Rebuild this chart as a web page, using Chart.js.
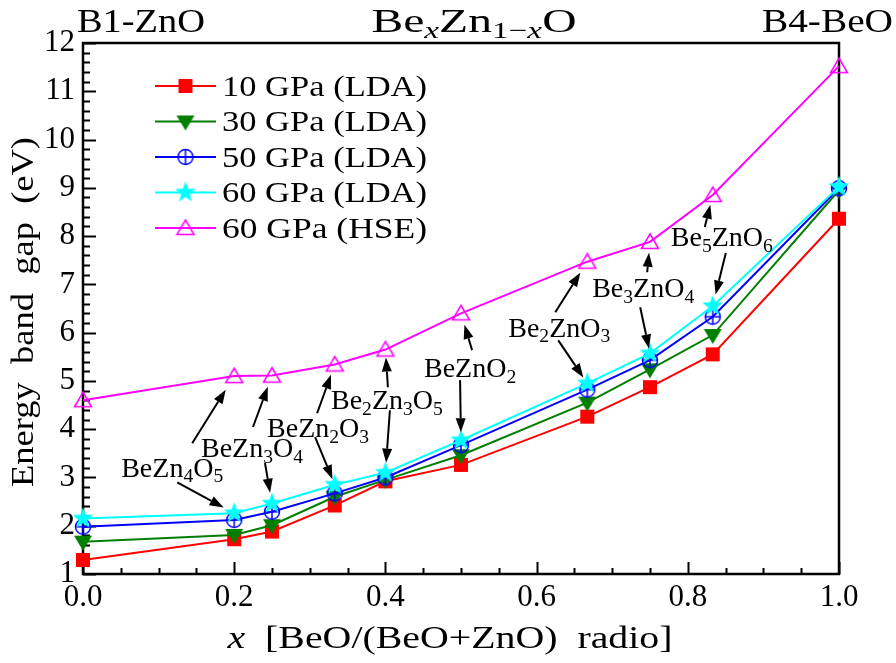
<!DOCTYPE html>
<html>
<head>
<meta charset="utf-8">
<script src="https://cdn.jsdelivr.net/npm/chart.js@4.4.0/dist/chart.umd.min.js"></script>
<style>
  html, body { margin: 0; padding: 0; background: #fff; }
</style>
</head>
<body>
<canvas id="chart" width="896" height="663"></canvas>
<script>
// BeO fraction x
const ratio = [0, 0.2, 0.25, 0.333, 0.4, 0.5, 0.667, 0.75, 0.833, 1.0];

// band gaps (eV)
const gap10LDA = [1.29, 1.72, 1.88, 2.42, 2.92, 3.26, 4.26, 4.87, 5.55, 8.36];
const gap30LDA = [1.67, 1.81, 2.01, 2.60, 2.95, 3.46, 4.55, 5.24, 5.95, 8.95];
const gap50LDA = [1.98, 2.12, 2.29, 2.67, 3.00, 3.67, 4.82, 5.43, 6.33, 8.99];
const gap60LDA = [2.15, 2.26, 2.46, 2.85, 3.10, 3.77, 4.95, 5.57, 6.55, 9.02];
const gap60HSE = [4.60, 5.10, 5.11, 5.34, 5.65, 6.40, 7.47, 7.88, 8.85, 11.52];

const seriesNames = ['10 GPa (LDA)', '30 GPa (LDA)', '50 GPa (LDA)', '60 GPa (LDA)', '60 GPa (HSE)'];
const seriesColors = ['#ff0000', '#007f00', '#0000ff', '#00ffff', '#ff00ff'];

const xTicks = [0, 0.2, 0.4, 0.6, 0.8, 1.0];
const yTicks = [1, 2, 3, 4, 5, 6, 7, 8, 9, 10, 11, 12];

// compound labels: centre in data units, arrows go from label to [series, point]
const notes = [
  { parts: [['BeZn', ''], ['4', 'sub'], ['O', ''], ['5', 'sub']], x: 0.118, y: 3.21,
    arrows: [{ dx: 20, dy: -24, s: 4, i: 1, gap: 16 }, { dx: 5, dy: 15, s: 3, i: 1, gap: 12 }] },
  { parts: [['BeZn', ''], ['3', 'sub'], ['O', ''], ['4', 'sub']], x: 0.2235, y: 3.61,
    arrows: [{ dx: 1, dy: -21, s: 4, i: 2, gap: 12 }, { dx: 13, dy: 15, s: 3, i: 2, gap: 11 }] },
  { parts: [['BeZn', ''], ['2', 'sub'], ['O', ''], ['3', 'sub']], x: 0.311, y: 4.02,
    arrows: [{ dx: -1, dy: -15, s: 4, i: 3, gap: 11 }, { dx: -3, dy: 9, s: 3, i: 3, gap: 6 }] },
  { parts: [['Be', ''], ['2', 'sub'], ['Zn', ''], ['3', 'sub'], ['O', ''], ['5', 'sub']], x: 0.402, y: 4.60,
    arrows: [{ dx: 1, dy: -13, s: 4, i: 4, gap: 8 }, { dx: 3, dy: 10, s: 3, i: 4, gap: 10 }] },
  { parts: [['BeZnO', ''], ['2', 'sub']], x: 0.512, y: 5.265,
    arrows: [{ dx: 2, dy: -18, s: 4, i: 5, gap: 12 }, { dx: -10, dy: 12, s: 3, i: 5, gap: 8 }] },
  { parts: [['Be', ''], ['2', 'sub'], ['ZnO', ''], ['3', 'sub']], x: 0.63, y: 6.11,
    arrows: [{ dx: -4, dy: -15, s: 4, i: 6, gap: 13 }, { dx: -1, dy: 13, s: 3, i: 6, gap: 7 }] },
  { parts: [['Be', ''], ['3', 'sub'], ['ZnO', ''], ['4', 'sub']], x: 0.741, y: 6.92,
    arrows: [{ dx: 4, dy: -16, s: 4, i: 7, gap: 11 }, { dx: -3, dy: 19, s: 3, i: 7, gap: 5 }] },
  { parts: [['Be', ''], ['5', 'sub'], ['ZnO', ''], ['6', 'sub']], x: 0.845, y: 7.98,
    arrows: [{ dx: -17, dy: -10, s: 4, i: 8, gap: 10 }, { dx: 4, dy: 16, s: 3, i: 8, gap: 12 }] }
];

const SERIF = '"Liberation Serif", "Times New Roman", serif';

// marker images
function makeMarker(kind, color) {
  const c = document.createElement('canvas');
  c.width = 28; c.height = 28;
  const g = c.getContext('2d');
  g.translate(14, 14);
  g.fillStyle = color;
  g.strokeStyle = color;
  g.lineWidth = 1.5;
  if (kind === 'square') {
    g.fillRect(-7, -7, 14, 14);
  } else if (kind === 'down') {
    g.beginPath();
    g.moveTo(-9, -6); g.lineTo(9, -6); g.lineTo(0, 9); g.closePath();
    g.fill();
  } else if (kind === 'crossCircle') {
    g.beginPath(); g.arc(0, 0, 7.5, 0, Math.PI * 2); g.stroke();
    g.beginPath();
    g.moveTo(0, -7.5); g.lineTo(0, 7.5);
    g.moveTo(-7.5, 0); g.lineTo(7.5, 0);
    g.stroke();
  } else if (kind === 'star') {
    g.beginPath();
    for (let k = 0; k < 10; k++) {
      const r = k % 2 === 0 ? 11 : 4.5;
      const a = -Math.PI / 2 + k * Math.PI / 5;
      g.lineTo(r * Math.cos(a), r * Math.sin(a));
    }
    g.closePath();
    g.fill();
  } else if (kind === 'up') {
    g.beginPath();
    g.moveTo(0, -8); g.lineTo(8.5, 6.5); g.lineTo(-8.5, 6.5); g.closePath();
    g.stroke();
  }
  return c;
}

const markerKinds = ['square', 'down', 'crossCircle', 'star', 'up'];
const seriesValues = [gap10LDA, gap30LDA, gap50LDA, gap60LDA, gap60HSE];

// rich text with subscripts / italics
function setFont(ctx, size, italic) {
  ctx.font = (italic ? 'italic ' : '') + size + 'px ' + SERIF;
}
function partSize(p, size) {
  return p[1].indexOf('sub') >= 0 ? size * 0.7 : size;
}
function richWidth(ctx, parts, size) {
  let w = 0;
  parts.forEach(p => {
    setFont(ctx, partSize(p, size), p[1].indexOf('it') >= 0);
    w += ctx.measureText(p[0]).width;
  });
  return w;
}
// fitWidth stretches the glyphs horizontally (Computer Modern is wider than Times)
function drawRich(ctx, parts, x, cy, size, align, fitWidth) {
  const natural = richWidth(ctx, parts, size);
  const sx = fitWidth ? fitWidth / natural : 1;
  const w = natural * sx;
  const left = align === 'center' ? x - w / 2 : align === 'right' ? x - w : x;
  const base = cy + size * 0.33;
  ctx.save();
  ctx.translate(left, 0);
  ctx.scale(sx, 1);
  ctx.textAlign = 'left';
  ctx.textBaseline = 'alphabetic';
  let px = 0;
  parts.forEach(p => {
    const s = partSize(p, size);
    setFont(ctx, s, p[1].indexOf('it') >= 0);
    const yy = p[1].indexOf('sub') >= 0 ? base + size * 0.2 : base;
    ctx.fillText(p[0], px, yy);
    px += ctx.measureText(p[0]).width;
  });
  ctx.restore();
}

function drawArrow(ctx, x1, y1, x2, y2) {
  const ang = Math.atan2(y2 - y1, x2 - x1);
  const hl = 14, hw = 5;
  const bx = x2 - hl * Math.cos(ang), by = y2 - hl * Math.sin(ang);
  ctx.beginPath();
  ctx.moveTo(x1, y1);
  ctx.lineTo(bx, by);
  ctx.stroke();
  ctx.beginPath();
  ctx.moveTo(x2, y2);
  ctx.lineTo(bx + hw * Math.sin(ang), by - hw * Math.cos(ang));
  ctx.lineTo(bx - hw * Math.sin(ang), by + hw * Math.cos(ang));
  ctx.closePath();
  ctx.fill();
}

// frame and inward ticks
const frame = {
  id: 'frame',
  beforeDatasetsDraw(chart) {
    const { ctx, chartArea: a, scales: { x, y } } = chart;
    ctx.save();
    ctx.strokeStyle = '#000';
    ctx.lineWidth = 2;
    ctx.beginPath();
    for (let v = 0; v <= 1.0001; v += 0.05) {
      const px = Math.round(x.getPixelForValue(v)) + 0.5;
      const major = Math.abs(v * 5 - Math.round(v * 5)) < 1e-6;
      ctx.moveTo(px, a.bottom);
      ctx.lineTo(px, a.bottom - (major ? 12 : 6));
    }
    for (let v = 1; v <= 12.0001; v += 0.2) {
      const py = Math.round(y.getPixelForValue(v)) + 0.5;
      const major = Math.abs(v - Math.round(v)) < 1e-6;
      ctx.moveTo(a.left, py);
      ctx.lineTo(a.left + (major ? 13 : 7), py);
    }
    ctx.stroke();
    ctx.lineWidth = 2.5;
    ctx.strokeRect(a.left, a.top, a.right - a.left, a.bottom - a.top);
    ctx.restore();
  },
  afterDatasetsDraw(chart) {
    const { ctx, scales: { x, y } } = chart;
    ctx.save();
    ctx.fillStyle = '#000';
    ctx.strokeStyle = '#000';
    ctx.lineWidth = 2;
    notes.forEach(n => {
      const cx = x.getPixelForValue(n.x), cy = y.getPixelForValue(n.y);
      n.arrows.forEach(ar => {
        const pt = chart.getDatasetMeta(ar.s).data[ar.i];
        const sx = cx + ar.dx, sy = cy + ar.dy;
        const d = Math.hypot(pt.x - sx, pt.y - sy);
        const ex = pt.x - (pt.x - sx) / d * ar.gap;
        const ey = pt.y - (pt.y - sy) / d * ar.gap;
        drawArrow(ctx, sx, sy, ex, ey);
      });
      drawRich(ctx, n.parts, cx, cy, 28, 'center');
    });
    ctx.restore();
  },
  afterDraw(chart) {
    const { ctx } = chart;
    ctx.save();
    ctx.fillStyle = '#000';
    // legend
    chart.data.datasets.forEach((ds, k) => {
      const ly = 86 + k * 35.5;
      ctx.strokeStyle = ds.borderColor;
      ctx.lineWidth = 2;
      ctx.beginPath();
      ctx.moveTo(155, ly);
      ctx.lineTo(216, ly);
      ctx.stroke();
      ctx.drawImage(ds.pointStyle, 185.5 - 14, ly - 14);
      ctx.fillStyle = '#000';
      drawRich(ctx, [[ds.label, '']], 222, ly, 30, 'left', 205);
    });
    // titles
    drawRich(ctx, [['B1-ZnO', '']], 77, 21, 33, 'left', 128);
    drawRich(ctx, [['Be', ''], ['x', 'itsub'], ['Zn', ''], ['1\u2212', 'sub'], ['x', 'itsub'], ['O', '']], 474, 21, 33, 'center', 205);
    drawRich(ctx, [['B4-BeO', '']], 893, 21, 33, 'right', 131);
    drawRich(ctx, [['x', 'it'], ['  [BeO/(BeO+ZnO)  radio]', '']], 450, 637, 32, 'center', 445);
    ctx.translate(22, 312);
    ctx.rotate(-Math.PI / 2);
    drawRich(ctx, [['Energy  band  gap  (eV)', '']], 0, 0, 32, 'center', 350);
    ctx.restore();
  }
};

const drawOrder = [5, 4, 3, 2, 1];
const datasets = seriesValues.map((vals, k) => ({
  label: seriesNames[k],
  data: ratio.map((r, i) => ({ x: r, y: vals[i] })),
  borderColor: seriesColors[k],
  backgroundColor: seriesColors[k],
  borderWidth: 2,
  pointStyle: makeMarker(markerKinds[k], seriesColors[k]),
  pointRadius: 8,
  tension: 0,
  clip: false,
  order: drawOrder[k]
}));

new Chart(document.getElementById('chart'), {
  type: 'line',
  data: { datasets },
  options: {
    responsive: false,
    animation: false,
    devicePixelRatio: 1,
    layout: { padding: { left: 0, top: 43, right: 57, bottom: 0 } },
    plugins: { legend: { display: false }, tooltip: { enabled: false } },
    scales: {
      x: {
        type: 'linear',
        min: 0, max: 1,
        afterFit: s => { s.height = 89; },
        afterBuildTicks: s => { s.ticks = xTicks.map(v => ({ value: v })); },
        grid: { display: false, drawTicks: false },
        border: { display: false },
        ticks: {
          color: '#000',
          padding: 5,
          font: { family: SERIF, size: 31 },
          callback: v => v.toFixed(1)
        }
      },
      y: {
        min: 1, max: 12,
        afterFit: s => { s.width = 83; },
        afterBuildTicks: s => { s.ticks = yTicks.map(v => ({ value: v })); },
        grid: { display: false, drawTicks: false },
        border: { display: false },
        ticks: {
          color: '#000',
          padding: 8,
          font: { family: SERIF, size: 31 },
          callback: v => String(v)
        }
      }
    }
  },
  plugins: [frame]
});
</script>
</body>
</html>
